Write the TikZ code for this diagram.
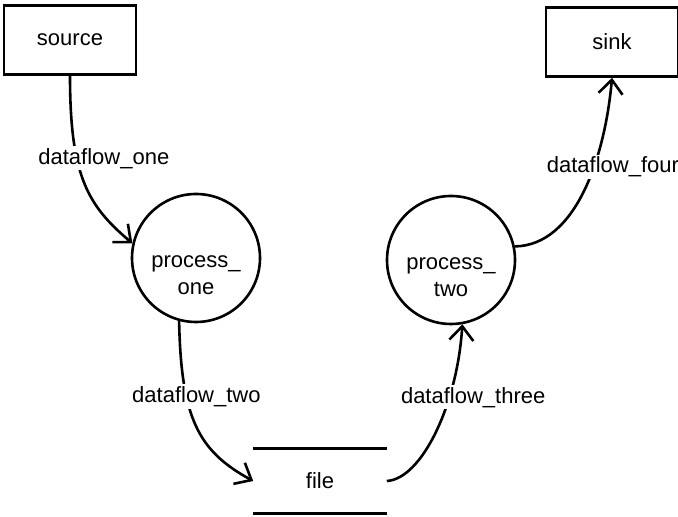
\documentclass[tikz,border=0pt]{standalone}
\usepackage{fontspec}
\setmainfont{Liberation Sans}
\usetikzlibrary{arrows.meta}

\begin{document}
\begin{tikzpicture}[x=0.5pt, y=0.5pt, line width=1.3pt,
    font=\fontsize{11}{13.5}\selectfont,
    ext/.style={draw, minimum width=66pt, minimum height=34.5pt},
    proc/.style={draw, circle, minimum size=64pt, inner sep=0pt},
    proctext/.style={align=center, yshift=-8.5pt},
    store/.style={minimum width=65.5pt, minimum height=31pt},
    flow/.style={fill=white, inner sep=1pt},
    >={Straight Barb[length=7pt, width=12pt]}]
  \useasboundingbox (0,0) rectangle (678,517);
  % terminators and processes
  \node[ext] (source) at (70,477) {source};
  \node[ext] (sink) at (612,475) {sink};
  \node[proc, label={[proctext]center:process\_\\one}] (p1) at (196,259) {};
  \node[proc, label={[proctext]center:process\_\\two}] (p2) at (451,257) {};
  \node[store] (file) at (320,36) {file};
  \draw (file.north west) -- (file.north east) (file.south west) -- (file.south east);
  % data flows
  \draw[->] (source.south) .. controls +(0,-100) and +(-45,38) .. (p1.167)
    node[flow, pos=.35, xshift=13.5pt] {dataflow\_one};
  \draw[->] (p1.255) .. controls +(2,-97) and +(-55,30) .. (file.west)
    node[flow, pos=.32, xshift=5pt] {dataflow\_two};
  \draw[->] (file.east) .. controls +(35,2) and +(-5,-80) .. (p2.280)
    node[flow, pos=.68, xshift=12pt] {dataflow\_three};
  \draw[->] (p2.12) .. controls +(61,1) and +(-7,-79) .. (sink.south)
    node[flow, pos=.62, xshift=9.5pt] {dataflow\_four};
\end{tikzpicture}
\end{document}
